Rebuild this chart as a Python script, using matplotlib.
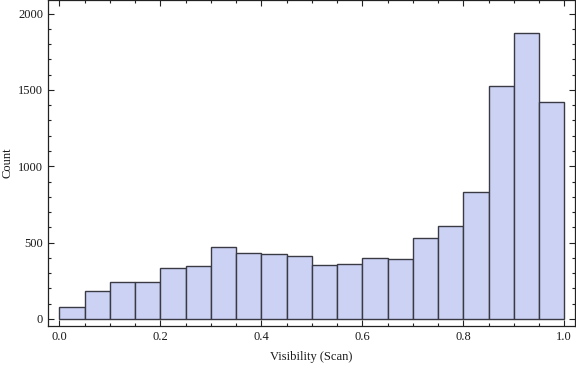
import numpy as np
import matplotlib
matplotlib.use("Agg")
import matplotlib.pyplot as plt
from matplotlib.ticker import MultipleLocator

bin_edges = np.linspace(0.0, 1.0, 21)
counts = [78, 181, 240, 240, 332, 345, 469, 430, 424, 410,
          352, 358, 397, 391, 528, 607, 830, 1524, 1871, 1419]
x_label = "Visibility (Scan)"
y_label = "Count"

plt.rcParams['font.family'] = ['Liberation Serif', 'DejaVu Serif']

fig = plt.figure(figsize=(5.76, 3.66), dpi=100)
ax = fig.add_axes([48/576, 1 - 326/366, (575-48)/576, 326/366])

widths = np.diff(bin_edges)
ax.bar(bin_edges[:-1], counts, width=widths, align='edge',
       color='#CBD2F4', edgecolor='#3a3a44', linewidth=1.0)

ax.set_xlim(-0.0224, 1.0212)
ax.set_ylim(-46, 2089)

ax.xaxis.set_major_locator(MultipleLocator(0.2))
ax.xaxis.set_minor_locator(MultipleLocator(0.05))
ax.yaxis.set_major_locator(MultipleLocator(500))
ax.yaxis.set_minor_locator(MultipleLocator(100))
ax.xaxis.set_major_formatter(matplotlib.ticker.FormatStrFormatter('%.1f'))

ax.tick_params(which='both', direction='in', top=True, right=True,
               width=0.8, color='#222222', labelsize=9, labelcolor='#1a1a1a')
ax.tick_params(which='major', length=4.0, pad=3.5)
ax.tick_params(which='minor', length=2.2)
for s in ax.spines.values():
    s.set_linewidth(0.9)
    s.set_color('#222222')

ax.set_xlabel(x_label, fontsize=9, color='#1a1a1a', labelpad=6)
ax.set_ylabel(y_label, fontsize=9, color='#1a1a1a', labelpad=3)

fig.savefig("out.png", dpi=100)
